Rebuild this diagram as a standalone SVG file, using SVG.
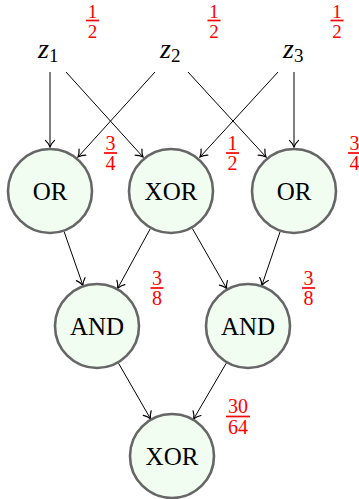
<svg xmlns="http://www.w3.org/2000/svg" width="359" height="499" viewBox="0 0 359 499">
<style>
.node circle{fill:#f0fdf0;stroke:#666666;stroke-width:2.6}
.node text{font-family:"Liberation Serif","DejaVu Serif",serif;font-size:25px;fill:#000;text-anchor:middle}
.var{font-family:"Liberation Serif","DejaVu Serif",serif;font-size:28px;font-style:italic;fill:#000}
.sub{font-size:19px;font-style:normal}
.frac text{font-family:"Liberation Serif","DejaVu Serif",serif;font-size:20px;fill:#ff0000;text-anchor:middle}
.frac.top text{font-size:19px}
.frac line{stroke:#ff0000;stroke-width:1.7}
#edges line{stroke:#000;stroke-width:1;fill:none;marker-end:url(#arr)}
</style>
<defs>
<marker id="arr" markerUnits="userSpaceOnUse" markerWidth="12" markerHeight="12" viewBox="-7 -5 8 10" refX="0" refY="0" orient="auto">
<path d="M -5.5 -3.8 C -3.5 -1.6 -1 -0.4 0 0 C -1 0.4 -3.5 1.6 -5.5 3.8" fill="none" stroke="#000" stroke-width="1" stroke-linecap="round"/>
</marker>
</defs>
<rect width="359" height="499" fill="#fff"/>
<g id="edges">
<line x1="50" y1="72" x2="50" y2="147"/>
<line x1="66" y1="72" x2="143" y2="157"/>
<line x1="155" y1="72" x2="78" y2="157"/>
<line x1="188" y1="72" x2="266" y2="157"/>
<line x1="278" y1="72" x2="200" y2="157"/>
<line x1="294" y1="72" x2="294" y2="147"/>
<line x1="64.1" y1="231.6" x2="82.9" y2="285.4"/>
<line x1="150.3" y1="228.7" x2="117.7" y2="288.3"/>
<line x1="192.3" y1="228.4" x2="226.7" y2="288.6"/>
<line x1="280.1" y1="231.7" x2="261.9" y2="285.3"/>
<line x1="118.5" y1="363.2" x2="150.5" y2="418.8"/>
<line x1="226.3" y1="363.1" x2="193.7" y2="418.9"/>
</g>
<g id="z1"><text class="var" x="38" y="58">z<tspan class="sub" dy="4">1</tspan></text></g>
<g id="z2"><text class="var" x="160" y="58">z<tspan class="sub" dy="4">2</tspan></text></g>
<g id="z3"><text class="var" x="283" y="58">z<tspan class="sub" dy="4">3</tspan></text></g>
<g id="or1" class="node"><circle cx="50" cy="191" r="42"/><text x="50" y="200">OR</text></g>
<g id="xor1" class="node"><circle cx="171" cy="191" r="42"/><text x="171" y="200">XOR</text></g>
<g id="or2" class="node"><circle cx="294" cy="191" r="42"/><text x="294" y="200">OR</text></g>
<g id="and1" class="node"><circle cx="97" cy="326" r="42"/><text x="97" y="335">AND</text></g>
<g id="and2" class="node"><circle cx="248" cy="326" r="42"/><text x="248" y="335">AND</text></g>
<g id="xor2" class="node"><circle cx="172" cy="456" r="42"/><text x="172" y="465">XOR</text></g>
<g id="p1" class="frac top"><text x="92.5" y="17.5">1</text><line x1="86" y1="20.5" x2="99" y2="20.5"/><text x="92.5" y="37.5">2</text></g>
<g id="p2" class="frac top"><text x="214" y="17.5">1</text><line x1="207.5" y1="20.5" x2="220.5" y2="20.5"/><text x="214" y="37.5">2</text></g>
<g id="p3" class="frac top"><text x="337" y="17.5">1</text><line x1="330.5" y1="20.5" x2="343.5" y2="20.5"/><text x="337" y="37.5">2</text></g>
<g id="p4" class="frac"><text x="110.5" y="150">3</text><line x1="104" y1="153" x2="117" y2="153"/><text x="110.5" y="170">4</text></g>
<g id="p5" class="frac"><text x="232.5" y="150">1</text><line x1="226" y1="153" x2="239" y2="153"/><text x="232.5" y="170">2</text></g>
<g id="p6" class="frac"><text x="354.5" y="150">3</text><line x1="348" y1="153" x2="361" y2="153"/><text x="354.5" y="170">4</text></g>
<g id="p7" class="frac"><text x="157" y="285">3</text><line x1="150.5" y1="288" x2="163.5" y2="288"/><text x="157" y="305">8</text></g>
<g id="p8" class="frac"><text x="308.5" y="285">3</text><line x1="302" y1="288" x2="315" y2="288"/><text x="308.5" y="305">8</text></g>
<g id="p9" class="frac"><text x="238" y="413">30</text><line x1="226" y1="416.5" x2="250" y2="416.5"/><text x="238" y="434">64</text></g>
</svg>
